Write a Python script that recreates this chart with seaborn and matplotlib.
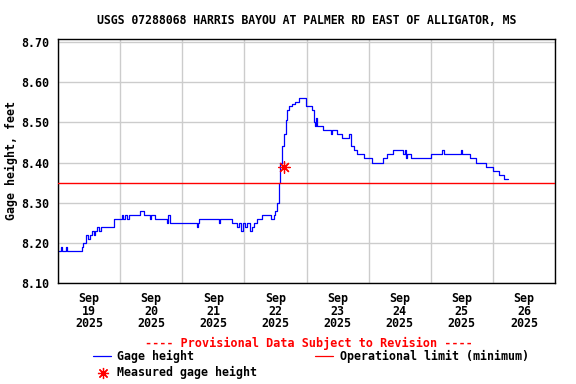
import matplotlib

matplotlib.use("Agg")

import matplotlib.dates as mdates
import matplotlib.pyplot as plt
import pandas as pd
import seaborn as sns
from matplotlib.lines import Line2D

title = "USGS 07288068 HARRIS BAYOU AT PALMER RD EAST OF ALLIGATOR, MS"
start = pd.Timestamp("2025-09-19 00:00")

# step breakpoints: (hours after Sep 19 00:00, gage height ft)
gage_points = [
    (0.0, 8.18), (1.2, 8.19), (1.6, 8.18), (3.2, 8.19), (3.6, 8.18),
    (9.2, 8.19), (9.8, 8.20), (10.8, 8.22), (11.6, 8.21), (12.2, 8.22),
    (13.3, 8.23), (14.0, 8.22), (14.4, 8.23), (15.0, 8.24), (16.0, 8.23),
    (16.5, 8.24), (21.8, 8.26), (24.6, 8.27), (25.2, 8.26), (25.8, 8.27),
    (26.6, 8.26), (27.4, 8.27), (31.7, 8.28), (33.4, 8.27), (35.4, 8.26),
    (35.9, 8.27), (37.5, 8.26), (42.1, 8.25), (42.6, 8.27), (43.2, 8.25),
    (53.7, 8.24), (54.1, 8.25), (54.6, 8.26), (62.1, 8.25), (62.6, 8.26),
    (67.2, 8.25), (69.2, 8.24), (70.0, 8.25), (70.8, 8.23), (71.6, 8.25),
    (72.4, 8.24), (73.2, 8.25), (74.0, 8.23), (74.8, 8.24), (75.6, 8.25),
    (76.9, 8.26), (78.8, 8.27), (82.1, 8.26), (83.3, 8.27), (84.0, 8.28),
    (84.6, 8.30), (85.3, 8.35), (85.9, 8.40), (86.6, 8.44), (87.2, 8.47),
    (87.9, 8.505), (88.5, 8.53), (89.2, 8.54), (90.3, 8.545), (91.5, 8.55),
    (93.0, 8.56), (95.7, 8.54), (98.2, 8.53), (98.8, 8.50), (99.2, 8.49),
    (99.8, 8.51), (100.1, 8.49), (102.5, 8.48), (105.3, 8.47), (105.8, 8.48),
    (107.9, 8.47), (109.8, 8.46), (112.4, 8.47), (113.0, 8.44), (114.3, 8.43),
    (115.6, 8.42), (118.2, 8.41), (121.4, 8.40), (125.7, 8.41), (127.2, 8.42),
    (129.6, 8.43), (133.4, 8.42), (133.9, 8.43), (134.4, 8.41), (135.0, 8.42),
    (136.4, 8.41), (144.0, 8.42), (148.5, 8.43), (149.0, 8.42), (155.6, 8.43),
    (156.1, 8.42), (159.2, 8.41), (161.4, 8.40), (165.3, 8.39), (167.9, 8.38),
    (170.5, 8.37), (172.4, 8.36), (173.9, 8.36),
]
gage_hours = [p[0] for p in gage_points]
gage_ft = [p[1] for p in gage_points]
measured_hours = [87.2]
measured_ft = [8.39]
operational_limit = 8.35

y_ticks = [8.10, 8.20, 8.30, 8.40, 8.50, 8.60, 8.70]
day_labels = ["19", "20", "21", "22", "23", "24", "25", "26"]

gage = pd.DataFrame({
    "time": start + pd.to_timedelta(gage_hours, unit="h"),
    "height": gage_ft,
})
measured = pd.DataFrame({
    "time": start + pd.to_timedelta(measured_hours, unit="h"),
    "height": measured_ft,
})

sns.set_theme(style="white")
plt.rcParams["font.family"] = ["DejaVu Sans Mono", "DejaVu Sans"]
plt.rcParams["font.weight"] = "bold"
plt.rcParams["text.color"] = "black"
plt.rcParams["xtick.color"] = "black"
plt.rcParams["ytick.color"] = "black"
plt.rcParams["axes.labelcolor"] = "black"

fs = 8.4

fig = plt.figure(figsize=(5.76, 3.84), dpi=100)
ax = fig.add_axes([58 / 576, 1 - 283 / 384, 497 / 576, 244 / 384])

sns.lineplot(data=gage, x="time", y="height", estimator=None, sort=False,
             drawstyle="steps-post", color="#0000ff", linewidth=0.9, ax=ax)
ax.axhline(operational_limit, color="#ff0000", linewidth=1.0, zorder=3)
sns.scatterplot(data=measured, x="time", y="height", marker=(8, 2, 0),
                s=70, color="#ff0000", edgecolor="#ff0000", linewidth=0.9,
                zorder=4, ax=ax)

ax.set_xlim(start, start + pd.Timedelta(days=8))
ax.set_ylim(8.10, 8.7075)
ax.set_yticks(y_ticks)
ax.set_yticklabels([f"{v:.2f}" for v in y_ticks], fontsize=fs, fontweight="bold")

noon_ticks = [start + pd.Timedelta(days=i, hours=12) for i in range(len(day_labels))]
ax.set_xticks(noon_ticks)
ax.set_xticklabels([f"Sep\n{d}\n2025" for d in day_labels],
                   fontsize=fs, fontweight="bold", linespacing=0.97)
ax.xaxis.set_minor_locator(mdates.DayLocator())
ax.tick_params(axis="both", which="both", length=0)
ax.tick_params(axis="x", pad=6.5)
ax.tick_params(axis="y", pad=6)

ax.grid(True, which="major", axis="y", color="#cccccc", linewidth=1)
ax.grid(True, which="minor", axis="x", color="#cccccc", linewidth=1)
ax.grid(False, which="major", axis="x")
for spine in ax.spines.values():
    spine.set_color("black")
    spine.set_linewidth(1)

ax.set_xlabel("")
ax.set_ylabel("Gage height, feet", fontsize=fs, fontweight="bold", labelpad=3)
ax.set_title(title, fontsize=8.3, fontweight="bold", pad=11)

# footer and legend
fig.text(309 / 576, 1 - 343 / 384, "---- Provisional Data Subject to Revision ----",
         color="#ff0000", fontsize=8.45, fontweight="bold", ha="center", va="center")
fig.add_artist(Line2D([93 / 576, 111 / 576], [1 - 356 / 384] * 2,
                      color="#0000ff", linewidth=0.9))
fig.text(117 / 576, 1 - 356 / 384, "Gage height", fontsize=fs,
         fontweight="bold", va="center")
fig.add_artist(Line2D([315 / 576, 333 / 576], [1 - 356 / 384] * 2,
                      color="#ff0000", linewidth=0.9))
fig.text(340 / 576, 1 - 356 / 384, "Operational limit (minimum)", fontsize=fs,
         fontweight="bold", va="center")
fig.add_artist(Line2D([102.5 / 576], [1 - 372.5 / 384], marker=(8, 2, 0),
                      markersize=8, color="#ff0000", markeredgewidth=0.9,
                      linestyle="none"))
fig.text(117 / 576, 1 - 372 / 384, "Measured gage height", fontsize=fs,
         fontweight="bold", va="center")

fig.savefig("out.png", dpi=100)
